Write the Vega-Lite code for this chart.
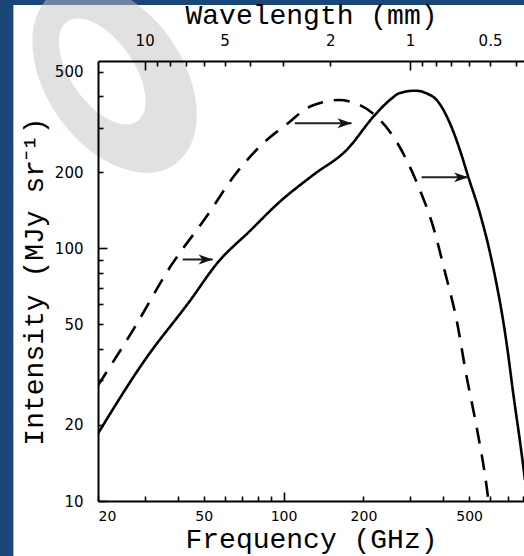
{
  "$schema": "https://vega.github.io/schema/vega-lite/v6.json",
  "width": 426,
  "height": 440,
  "autosize": "none",
  "padding": {"left": 98, "top": 61, "right": 0, "bottom": 55},
  "background": "#1b4778",
  "datasets": {
    "spectra": [
      {"freq": 20.0, "intensity": 18.5, "spectrum": "warmer"},
      {"freq": 30.0, "intensity": 36.1, "spectrum": "warmer"},
      {"freq": 44.3, "intensity": 61.8, "spectrum": "warmer"},
      {"freq": 56.7, "intensity": 88.3, "spectrum": "warmer"},
      {"freq": 74.6, "intensity": 117.1, "spectrum": "warmer"},
      {"freq": 96.8, "intensity": 153.0, "spectrum": "warmer"},
      {"freq": 129.2, "intensity": 195.2, "spectrum": "warmer"},
      {"freq": 172.7, "intensity": 245.2, "spectrum": "warmer"},
      {"freq": 220.8, "intensity": 337.4, "spectrum": "warmer"},
      {"freq": 251.5, "intensity": 386.9, "spectrum": "warmer"},
      {"freq": 274.4, "intensity": 412.4, "spectrum": "warmer"},
      {"freq": 312.4, "intensity": 421.1, "spectrum": "warmer"},
      {"freq": 349.9, "intensity": 408.7, "spectrum": "warmer"},
      {"freq": 377.3, "intensity": 386.9, "spectrum": "warmer"},
      {"freq": 423.4, "intensity": 312.8, "spectrum": "warmer"},
      {"freq": 461.7, "intensity": 245.2, "spectrum": "warmer"},
      {"freq": 496.2, "intensity": 192.2, "spectrum": "warmer"},
      {"freq": 549.3, "intensity": 137.6, "spectrum": "warmer"},
      {"freq": 607.9, "intensity": 89.9, "spectrum": "warmer"},
      {"freq": 692.5, "intensity": 42.0, "spectrum": "warmer"},
      {"freq": 733.4, "intensity": 26.6, "spectrum": "warmer"},
      {"freq": 788.6, "intensity": 15.4, "spectrum": "warmer"},
      {"freq": 811.8, "intensity": 12.1, "spectrum": "warmer"},
      {"freq": 20.0, "intensity": 28.7, "spectrum": "cooler"},
      {"freq": 27.1, "intensity": 47.5, "spectrum": "cooler"},
      {"freq": 37.8, "intensity": 85.9, "spectrum": "cooler"},
      {"freq": 51.2, "intensity": 133.4, "spectrum": "cooler"},
      {"freq": 65.5, "intensity": 195.2, "spectrum": "cooler"},
      {"freq": 83.7, "intensity": 260.6, "spectrum": "cooler"},
      {"freq": 105.6, "intensity": 317.4, "spectrum": "cooler"},
      {"freq": 122.1, "intensity": 358.6, "spectrum": "cooler"},
      {"freq": 139.4, "intensity": 378.2, "spectrum": "cooler"},
      {"freq": 160.6, "intensity": 386.9, "spectrum": "cooler"},
      {"freq": 193.8, "intensity": 369.6, "spectrum": "cooler"},
      {"freq": 224.1, "intensity": 332.2, "spectrum": "cooler"},
      {"freq": 251.5, "intensity": 289.7, "spectrum": "cooler"},
      {"freq": 290.8, "intensity": 223.8, "spectrum": "cooler"},
      {"freq": 326.3, "intensity": 170.2, "spectrum": "cooler"},
      {"freq": 366.2, "intensity": 121.8, "spectrum": "cooler"},
      {"freq": 405.3, "intensity": 80.8, "spectrum": "cooler"},
      {"freq": 448.7, "intensity": 52.0, "spectrum": "cooler"},
      {"freq": 489.5, "intensity": 31.0, "spectrum": "cooler"},
      {"freq": 533.8, "intensity": 19.6, "spectrum": "cooler"},
      {"freq": 582.1, "intensity": 11.4, "spectrum": "cooler"},
      {"freq": 595.0, "intensity": 9.5, "spectrum": "cooler"}
    ],
    "arrows": [
      {"start": 41.7, "tip": 54.1, "level": 90.4},
      {"start": 110.3, "tip": 180.4, "level": 312.8},
      {"start": 331.1, "tip": 496.2, "level": 191.1}
    ],
    "panel": [
      {"fLow": 9.6, "fHigh": 1000, "iLow": 5, "iHigh": 920}
    ],
    "watermark": [
      {"freq": 23.1, "intensity": 472}
    ]
  },
  "layer": [
    {
      "data": {"name": "panel"},
      "mark": {"type": "rect", "color": "white", "clip": false},
      "encoding": {
        "x": {"field": "fLow", "type": "quantitative", "axis": null,
              "scale": {"type": "log", "domain": [20, 805]}},
        "x2": {"field": "fHigh"},
        "y": {"field": "iLow", "type": "quantitative",
              "scale": {"type": "log", "domain": [10, 552]}},
        "y2": {"field": "iHigh"}
      }
    },
    {
      "data": {"name": "watermark"},
      "mark": {
        "type": "point",
        "shape": "M0,-1 A0.65,1 0 1,1 0,1 A0.65,1 0 1,1 0,-1 Z M-0.06,-0.7 A0.3,0.58 0 1,0 -0.06,0.46 A0.3,0.58 0 1,0 -0.06,-0.7 Z",
        "filled": true, "color": "#c4c4c4", "opacity": 0.5, "size": 44100, "angle": -35, "clip": false
      },
      "encoding": {
        "x": {"field": "freq", "type": "quantitative", "axis": null, "scale": {"type": "log", "domain": [20, 805]}},
        "y": {"field": "intensity", "type": "quantitative", "scale": {"type": "log", "domain": [10, 552]}}
      }
    },
    {
      "data": {"name": "spectra"},
      "mark": {"type": "line", "color": "black", "strokeWidth": 2.6, "clip": true, "interpolate": "monotone"},
      "encoding": {
        "x": {
          "field": "freq", "type": "quantitative",
          "scale": {"type": "log", "domain": [20, 805]},
          "axis": {
            "zindex": 2,
            "orient": "bottom",
            "title": "Frequency (GHz)",
            "values": [20, 30, 40, 50, 60, 70, 80, 90, 100, 200, 300, 400, 500, 600, 700, 800],
            "labelExpr": "indexof([20, 50, 100, 200, 500], datum.value) >= 0 ? datum.label : ''",
            "tickSize": {"condition": {"test": "datum.value == 100", "value": -9}, "value": -5},
            "labelPadding": {"condition": {"test": "datum.value == 100", "value": 17}, "value": 13},
            "labelFontSize": 14,
            "titlePadding": 2
          }
        },
        "y": {
          "field": "intensity", "type": "quantitative",
          "scale": {"type": "log", "domain": [10, 552]},
          "axis": {
            "zindex": 2,
            "orient": "left",
            "title": "Intensity (MJy sr⁻¹)",
            "values": [10, 20, 30, 40, 50, 60, 70, 80, 90, 100, 200, 300, 400, 500],
            "labelExpr": "indexof([10, 20, 50, 100, 200, 500], datum.value) >= 0 ? datum.label : ''",
            "tickSize": {"condition": {"test": "datum.value == 100 || datum.value == 10", "value": -9}, "value": -5},
            "labelPadding": {"condition": {"test": "datum.value == 100 || datum.value == 10", "value": 24}, "value": 20},
            "titlePadding": 6
          }
        },
        "strokeDash": {
          "field": "spectrum", "type": "nominal", "legend": null,
          "scale": {"domain": ["warmer", "cooler"], "range": [[1, 0], [16, 11]]}
        }
      }
    },
    {
      "data": {"name": "arrows"},
      "mark": {"type": "rule", "color": "#222222", "strokeWidth": 2},
      "encoding": {
        "x": {
          "field": "start", "type": "quantitative",
          "scale": {"type": "log", "domain": [20, 805]},
          "axis": {
            "zindex": 2,
            "orient": "top",
            "title": "Wavelength (mm)",
            "values": [29.9792, 33.3103, 37.4741, 42.8275, 49.9654, 59.9585, 74.9481, 99.9308, 149.896, 299.792, 333.103, 374.741, 428.275, 499.654, 599.585, 749.481],
            "labelExpr": "indexof([10, 5, 2, 1, 0.5], round(2997.92458 / datum.value) / 10) >= 0 ? '' + round(2997.92458 / datum.value) / 10 : ''",
            "tickSize": {"condition": {"test": "abs(datum.value - 29.9792) < 0.5 || abs(datum.value - 299.792) < 1", "value": -9}, "value": -5},
            "labelPadding": {"condition": {"test": "abs(datum.value - 29.9792) < 0.5 || abs(datum.value - 299.792) < 1", "value": 22}, "value": 18},
            "titlePadding": 4
          }
        },
        "x2": {"field": "tip"},
        "y": {"field": "level", "type": "quantitative", "scale": {"type": "log", "domain": [10, 552]}}
      }
    },
    {
      "data": {"name": "arrows"},
      "mark": {"type": "point", "shape": "M0,0 L-2,-0.7 L-1.45,0 L-2,0.7 Z", "filled": true, "color": "#111111", "size": 200, "opacity": 1},
      "encoding": {
        "x": {"field": "tip", "type": "quantitative", "axis": null, "scale": {"type": "log", "domain": [20, 805]}},
        "y": {"field": "level", "type": "quantitative", "scale": {"type": "log", "domain": [10, 552]}}
      }
    }
  ],
  "resolve": {"axis": {"x": "independent"}},
  "config": {
    "view": {"stroke": null},
    "axis": {
      "grid": false,
      "domainColor": "black",
      "domainWidth": 2,
      "tickColor": "black",
      "tickWidth": 1.6,
      "labelFont": "DejaVu Sans",
      "labelFontSize": 15,
      "labelColor": "black",
      "titleFont": "Liberation Mono",
      "titleFontSize": 28,
      "titleFontWeight": "normal",
      "titleColor": "black"
    }
  }
}
